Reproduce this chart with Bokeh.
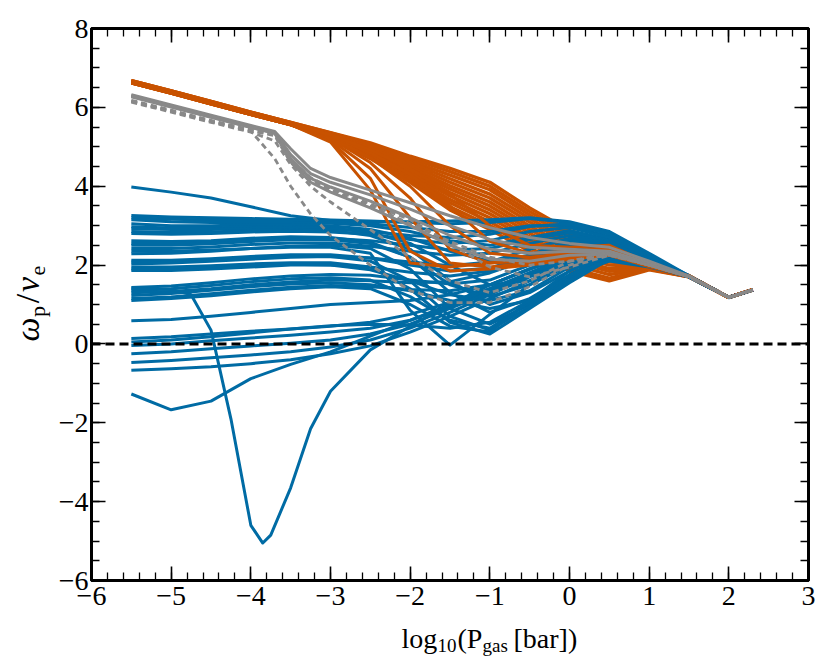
import math
from bokeh.plotting import figure
from bokeh.layouts import row, column
from bokeh.models import (SingleIntervalTicker, LinearAxis, CustomJSTickFormatter,
                          Span, Label, Range1d)
from bokeh.embed import file_html
from bokeh.resources import INLINE

# ---------------- data ----------------
X = [-5.5, -5.0, -4.5, -4.0, -3.5, -3.0, -2.5, -2.0, -1.5, -1.0, -0.5, 0.0, 0.5, 1.0, 1.5, 2.0, 2.3]

# orange runs that stay in the upper band
ORANGE = [
    [6.68, 6.42, 6.15, 5.88, 5.62, 5.36, 5.10, 4.76, 4.45, 4.10, 3.45, 2.88, 2.55, 2.08, 1.73, 1.18, 1.38],
    [6.68, 6.42, 6.15, 5.88, 5.62, 5.35, 5.07, 4.71, 4.37, 4.00, 3.36, 2.80, 2.47, 2.06, 1.73, 1.18, 1.38],
    [6.66, 6.40, 6.13, 5.86, 5.60, 5.33, 5.04, 4.65, 4.28, 3.91, 3.27, 2.72, 2.40, 2.05, 1.72, 1.18, 1.37],
    [6.66, 6.40, 6.13, 5.86, 5.60, 5.32, 5.00, 4.60, 4.19, 3.80, 3.18, 2.62, 2.31, 2.03, 1.72, 1.18, 1.37],
    [6.66, 6.40, 6.13, 5.86, 5.60, 5.31, 4.97, 4.54, 4.10, 3.70, 3.09, 2.54, 2.24, 2.01, 1.72, 1.18, 1.37],
    [6.64, 6.38, 6.11, 5.84, 5.58, 5.29, 4.93, 4.48, 4.01, 3.60, 2.99, 2.45, 2.15, 2.00, 1.72, 1.18, 1.37],
    [6.64, 6.38, 6.11, 5.84, 5.58, 5.28, 4.90, 4.43, 3.93, 3.50, 2.90, 2.37, 2.08, 1.98, 1.71, 1.18, 1.37],
    [6.64, 6.38, 6.11, 5.84, 5.58, 5.27, 4.87, 4.38, 3.84, 3.40, 2.81, 2.28, 2.00, 1.96, 1.71, 1.18, 1.37],
    [6.64, 6.38, 6.11, 5.84, 5.58, 5.25, 4.83, 4.32, 3.75, 3.30, 2.71, 2.19, 1.91, 1.95, 1.71, 1.18, 1.37],
    [6.62, 6.36, 6.09, 5.82, 5.56, 5.24, 4.80, 4.27, 3.66, 3.20, 2.63, 2.11, 1.84, 1.93, 1.71, 1.18, 1.37],
    [6.62, 6.36, 6.09, 5.82, 5.56, 5.23, 4.77, 4.21, 3.58, 3.10, 2.54, 2.03, 1.76, 1.91, 1.70, 1.18, 1.37],
    [6.62, 6.36, 6.09, 5.82, 5.56, 5.21, 4.73, 4.15, 3.48, 3.00, 2.44, 1.93, 1.67, 1.90, 1.70, 1.18, 1.37],
    [6.62, 6.36, 6.09, 5.82, 5.56, 5.20, 4.70, 4.10, 3.40, 2.90, 2.35, 1.85, 1.60, 1.88, 1.70, 1.18, 1.37],
]
# orange runs that drop steeply out of the band
ORANGE_DROP = [
    [6.62, 6.36, 6.09, 5.82, 5.56, 5.15, 4.20, 2.35, 1.85, 1.90, 2.00, 2.15, 2.25, 1.96, 1.71, 1.18, 1.37],
    [6.64, 6.38, 6.11, 5.84, 5.58, 5.18, 4.45, 3.20, 2.05, 1.95, 2.05, 2.20, 2.30, 1.98, 1.71, 1.18, 1.37],
    [6.64, 6.38, 6.11, 5.84, 5.58, 5.22, 4.60, 3.70, 2.40, 2.05, 2.10, 2.25, 2.35, 2.00, 1.72, 1.18, 1.37],
    [6.66, 6.40, 6.13, 5.86, 5.60, 5.25, 4.72, 4.00, 3.00, 2.30, 2.20, 2.30, 2.40, 2.02, 1.72, 1.18, 1.37],
    [6.66, 6.40, 6.13, 5.86, 5.60, 5.28, 4.85, 4.30, 3.50, 2.60, 2.30, 2.35, 2.45, 2.03, 1.72, 1.18, 1.37],
    [6.68, 6.42, 6.15, 5.88, 5.62, 5.30, 4.92, 4.45, 3.80, 3.00, 2.50, 2.45, 2.50, 2.05, 1.72, 1.18, 1.38],
    [6.62, 6.36, 6.09, 5.82, 5.56, 5.12, 3.90, 2.05, 1.95, 2.05, 2.15, 2.30, 2.38, 2.00, 1.71, 1.18, 1.37],
]

BLUE = [
    [3.98, 3.85, 3.70, 3.48, 3.25, 3.13, 3.10, 3.10, 3.12, 3.15, 3.20, 3.10, 2.85, 2.30, 1.73, 1.18, 1.37],
    [3.26, 3.22, 3.20, 3.18, 3.16, 3.14, 3.12, 3.08, 3.05, 3.08, 3.18, 3.08, 2.80, 2.25, 1.73, 1.18, 1.37],
    [3.20, 3.16, 3.14, 3.13, 3.12, 3.10, 3.05, 2.95, 2.85, 2.85, 3.00, 3.00, 2.72, 2.20, 1.72, 1.17, 1.36],
    [3.15, 3.10, 3.08, 3.08, 3.08, 3.06, 3.00, 2.85, 2.62, 2.50, 2.70, 2.88, 2.65, 2.15, 1.72, 1.18, 1.37],
    [3.05, 3.00, 3.00, 3.02, 3.02, 3.00, 2.90, 2.68, 2.35, 2.10, 2.25, 2.62, 2.55, 2.10, 1.72, 1.19, 1.37],
    [2.97, 2.94, 2.94, 2.97, 2.98, 2.95, 2.82, 2.55, 2.00, 1.50, 1.60, 2.10, 2.40, 2.05, 1.71, 1.18, 1.37],
    [2.93, 2.90, 2.90, 2.93, 2.95, 2.92, 2.85, 2.75, 2.70, 2.78, 2.98, 3.05, 2.78, 2.22, 1.73, 1.18, 1.37],
    [2.85, 2.83, 2.84, 2.88, 2.90, 2.88, 2.75, 2.40, 1.60, 1.00, 1.30, 1.85, 2.30, 2.02, 1.70, 1.18, 1.37],
    [2.80, 2.78, 2.80, 2.84, 2.86, 2.84, 2.78, 2.65, 2.55, 2.62, 2.85, 2.95, 2.70, 2.18, 1.72, 1.18, 1.37],
    [2.62, 2.60, 2.62, 2.68, 2.72, 2.70, 2.58, 2.20, 1.30, 0.80, 1.15, 1.75, 2.25, 2.00, 1.70, 1.18, 1.37],
    [2.55, 2.55, 2.58, 2.64, 2.68, 2.68, 2.62, 2.50, 2.38, 2.42, 2.65, 2.82, 2.62, 2.15, 1.72, 1.18, 1.37],
    [2.50, 2.50, 2.54, 2.60, 2.64, 2.64, 2.55, 2.20, 1.50, 1.20, 1.50, 2.00, 2.35, 2.05, 1.71, 1.18, 1.37],
    [2.42, 2.42, 2.46, 2.52, 2.56, 2.56, 2.48, 2.35, 2.25, 2.30, 2.55, 2.75, 2.60, 2.12, 1.72, 1.18, 1.37],
    [2.29, 2.30, 2.35, 2.42, 2.48, 2.50, 2.42, 1.90, 0.90, 0.50, 1.00, 1.65, 2.20, 2.00, 1.70, 1.18, 1.37],
    [2.35, 2.35, 2.38, 2.42, 2.45, 2.45, 2.30, 0.85, -0.03, 0.75, 1.50, 2.10, 2.40, 2.05, 1.71, 1.18, 1.37],
    [2.12, 2.12, 2.16, 2.22, 2.26, 2.26, 2.18, 2.00, 1.85, 1.92, 2.25, 2.60, 2.55, 2.10, 1.72, 1.18, 1.37],
    [2.08, 2.08, 2.12, 2.18, 2.22, 2.22, 2.10, 1.60, 0.70, 0.35, 0.95, 1.60, 2.20, 2.00, 1.70, 1.18, 1.37],
    [2.03, 2.05, 2.10, 2.15, 2.20, 2.22, 2.18, 2.08, 1.98, 2.08, 2.40, 2.68, 2.58, 2.12, 1.72, 1.18, 1.37],
    [1.95, 1.95, 1.98, 2.03, 2.06, 2.06, 1.95, 1.40, 0.55, 0.25, 0.90, 1.55, 2.15, 1.98, 1.70, 1.18, 1.37],
    [1.90, 1.91, 1.94, 1.99, 2.02, 2.00, 1.88, 1.60, 1.25, 1.10, 1.35, 1.95, 2.35, 2.05, 1.71, 1.18, 1.37],
    [1.86, 1.86, 1.90, 1.95, 2.00, 2.00, 1.95, 1.82, 1.72, 1.85, 2.20, 2.55, 2.52, 2.10, 1.72, 1.18, 1.37],
    [1.43, 1.47, 1.55, 1.65, 1.72, 1.76, 1.74, 1.62, 1.52, 1.62, 2.00, 2.42, 2.48, 2.08, 1.72, 1.18, 1.37],
    [1.35, 1.40, 1.48, 1.58, 1.65, 1.68, 1.62, 1.20, 0.60, 0.40, 1.05, 1.70, 2.15, 1.98, 1.70, 1.18, 1.37],
    [1.30, 1.33, 1.40, 1.50, 1.57, 1.62, 1.60, 1.55, 1.58, 1.80, 2.15, 2.48, 2.50, 2.08, 1.72, 1.18, 1.37],
    [1.23, 1.28, 1.36, 1.45, 1.52, 1.55, 1.50, 1.35, 1.10, 0.90, 1.10, 1.75, 2.28, 2.02, 1.71, 1.18, 1.37],
    [1.15, 1.19, 1.27, 1.36, 1.44, 1.48, 1.45, 1.38, 1.35, 1.50, 1.90, 2.35, 2.45, 2.05, 1.72, 1.18, 1.37],
    [1.10, 1.15, 1.22, 1.32, 1.40, 1.45, 1.40, 1.00, 0.45, 0.30, 1.10, 1.75, 2.10, 1.95, 1.70, 1.18, 1.37],
    [0.59, 0.62, 0.70, 0.80, 0.90, 1.00, 1.05, 1.10, 1.25, 1.50, 1.90, 2.30, 2.40, 2.05, 1.71, 1.18, 1.37],
    [0.14, 0.18, 0.25, 0.32, 0.38, 0.45, 0.55, 0.75, 1.05, 1.40, 1.80, 2.20, 2.35, 2.02, 1.70, 1.18, 1.37],
    [0.05, 0.10, 0.18, 0.28, 0.38, 0.46, 0.50, 0.48, 0.40, 0.55, 1.10, 1.85, 2.30, 2.00, 1.70, 1.18, 1.37],
    [-0.04, 0.00, 0.08, 0.15, 0.22, 0.30, 0.40, 0.60, 0.95, 1.35, 1.80, 2.20, 2.35, 2.00, 1.70, 1.18, 1.37],
    [-0.25, -0.20, -0.12, -0.05, 0.02, 0.10, 0.25, 0.50, 0.90, 1.30, 1.75, 2.15, 2.30, 2.00, 1.70, 1.18, 1.37],
    [-0.47, -0.42, -0.35, -0.28, -0.20, -0.08, 0.10, 0.40, 0.80, 1.25, 1.70, 2.10, 2.30, 2.00, 1.70, 1.18, 1.37],
    [-0.67, -0.63, -0.58, -0.50, -0.40, -0.25, -0.05, 0.30, 0.70, 1.15, 1.60, 2.05, 2.28, 1.98, 1.70, 1.18, 1.37],
    [-1.27, -1.67, -1.45, -0.88, -0.52, -0.20, 0.20, 0.60, 1.00, 1.40, 1.80, 2.15, 2.30, 2.00, 1.70, 1.18, 1.37],
]

# the blue run with the deep minimum near log P = -3.85
XV = [-5.5, -5.0, -4.75, -4.5, -4.25, -4.0, -3.85, -3.75, -3.5, -3.25, -3.0, -2.5, -2.0,
      -1.5, -1.0, -0.5, 0.0, 0.5, 1.0, 1.5, 2.0, 2.3]
YV = [1.40, 1.38, 1.25, 0.35, -1.90, -4.60, -5.05, -4.85, -3.65, -2.15, -1.20, -0.15, 0.45,
      1.00, 1.50, 1.90, 2.20, 2.35, 2.00, 1.70, 1.18, 1.37]

XG = [-5.5, -5.0, -4.5, -4.0, -3.7, -3.5, -3.25, -3.0, -2.5, -2.0, -1.5, -1.0, -0.5,
      0.0, 0.5, 1.0, 1.5, 2.0, 2.3]
GRAY_SOLID = [
    [6.32, 6.06, 5.80, 5.54, 5.39, 4.95, 4.45, 4.22, 3.90, 3.58, 3.25, 2.95, 2.70, 2.55, 2.45, 2.10, 1.72, 1.18, 1.37],
    [6.30, 6.04, 5.78, 5.52, 5.37, 4.80, 4.32, 4.10, 3.78, 3.42, 3.00, 2.65, 2.45, 2.40, 2.35, 2.05, 1.72, 1.18, 1.37],
    [6.28, 6.02, 5.76, 5.50, 5.35, 4.70, 4.20, 3.98, 3.62, 3.20, 2.75, 2.40, 2.30, 2.35, 2.30, 2.00, 1.71, 1.18, 1.37],
    [6.27, 6.01, 5.75, 5.49, 5.34, 4.62, 4.10, 3.85, 3.45, 3.00, 2.50, 2.15, 2.10, 2.25, 2.28, 2.00, 1.71, 1.18, 1.37],
]
GRAY_DASHED = [
    [6.15, 5.90, 5.64, 5.40, 4.70, 4.00, 3.30, 2.75, 2.00, 1.35, 1.05, 1.05, 1.45, 2.00, 2.30, 2.00, 1.70, 1.18, 1.37],
    [6.13, 5.88, 5.62, 5.37, 5.15, 4.55, 4.00, 3.60, 2.90, 2.20, 1.60, 1.30, 1.60, 2.10, 2.30, 2.00, 1.70, 1.18, 1.37],
    [6.16, 5.91, 5.65, 5.41, 5.28, 4.60, 4.15, 3.90, 3.50, 3.05, 2.60, 2.20, 2.00, 2.10, 2.25, 2.00, 1.71, 1.18, 1.37],
    [6.18, 5.93, 5.67, 5.43, 5.30, 4.68, 4.22, 3.95, 3.55, 3.15, 2.55, 1.95, 1.70, 1.95, 2.25, 2.00, 1.71, 1.18, 1.37],
]

ZERO_LEVEL = 0.0
X_RANGE = (-6, 3)
Y_RANGE = (-6, 8)

ORANGE_C = "#C85200"
BLUE_C = "#006BA4"
GRAY_C = "#898989"
SERIF = "Liberation Serif"

# ---------------- main figure ----------------
p = figure(width=772, height=612, x_range=Range1d(*X_RANGE), y_range=Range1d(*Y_RANGE),
           output_backend="svg", toolbar_location=None, title=None,
           min_border_left=39, min_border_right=16, min_border_top=28, min_border_bottom=32)
p.xgrid.visible = False
p.ygrid.visible = False
p.outline_line_color = "black"
p.outline_line_width = 3
p.background_fill_color = "white"
p.border_fill_color = "white"

for ys in ORANGE:
    p.line(X, ys, line_color=ORANGE_C, line_width=3.4, line_join="round")
for ys in BLUE:
    p.line(X, ys, line_color=BLUE_C, line_width=3.0, line_join="round")
p.line(XV, YV, line_color=BLUE_C, line_width=3.0, line_join="round")
for ys in ORANGE_DROP:
    p.line(X, ys, line_color=ORANGE_C, line_width=3.0, line_join="round")
for ys in GRAY_SOLID:
    p.line(XG, ys, line_color=GRAY_C, line_width=3.0, line_join="round")
for ys in GRAY_DASHED:
    p.line(XG, ys, line_color=GRAY_C, line_width=2.8, line_dash="6 4", line_join="round")

p.add_layout(Span(location=ZERO_LEVEL, dimension="width", line_color="black",
                  line_width=3, line_dash="9 5"))

fmt_code = "return tick < 0 ? '\u2212' + String(-tick) : String(tick);"

def style_axis(ax, labels=True):
    ax.axis_line_color = "black"
    ax.axis_line_width = 3
    ax.major_tick_in = 14
    ax.major_tick_out = 0
    ax.minor_tick_in = 8
    ax.minor_tick_out = 0
    ax.major_tick_line_width = 1.6
    ax.minor_tick_line_width = 1.3
    ax.major_tick_line_color = "black"
    ax.minor_tick_line_color = "black"
    ax.axis_label = None
    if labels:
        ax.formatter = CustomJSTickFormatter(code=fmt_code)
        ax.major_label_text_font = SERIF
        ax.major_label_text_font_size = "28px"
        ax.major_label_text_color = "black"
    else:
        ax.formatter = CustomJSTickFormatter(code="return '';")
        ax.major_label_text_font_size = "0px"
        ax.major_label_standoff = 0

p.xaxis.ticker = SingleIntervalTicker(interval=1, num_minor_ticks=5)
p.yaxis.ticker = SingleIntervalTicker(interval=2, num_minor_ticks=4)
style_axis(p.xaxis[0])
style_axis(p.yaxis[0])
p.xaxis.major_label_standoff = 6
p.yaxis.major_label_standoff = 3

top = LinearAxis(ticker=SingleIntervalTicker(interval=1, num_minor_ticks=5))
style_axis(top, labels=False)
p.add_layout(top, "above")
right = LinearAxis(ticker=SingleIntervalTicker(interval=2, num_minor_ticks=4))
style_axis(right, labels=False)
p.add_layout(right, "right")

# ---------------- title strips (composed texts with subscripts) ----------------
def strip(w, h):
    f = figure(width=w, height=h, x_range=Range1d(0, 1), y_range=Range1d(0, 1),
               x_axis_location=None, y_axis_location=None, toolbar_location=None,
               output_backend="svg", title=None, min_border=0, outline_line_color=None)
    f.grid.visible = False
    f.background_fill_color = None
    f.border_fill_color = None
    return f

def lab(fig, text, x, y, size, style="normal", angle=0.0, align="left", baseline="alphabetic"):
    fig.add_layout(Label(x=x, y=y, x_units="screen", y_units="screen", text=text,
                         text_font=SERIF, text_font_size=size, text_font_style=style,
                         text_color="black", angle=angle, text_align=align,
                         text_baseline=baseline))

# x title: log10(Pgas [bar])
xt = strip(772, 48)
bx = 22
lab(xt, "log", 310, bx, "28px")
lab(xt, "10", 346, bx - 7, "19px")
lab(xt, "(P", 366, bx, "28px")
lab(xt, "gas", 391, bx - 7, "19px")
lab(xt, "[bar])", 422, bx, "28px")

# y title: omega_p / nu_e (reads bottom to top); anchors on the centre line of each piece
yt = strip(52, 660)
ang = math.pi / 2
lab(yt, "\u03c9", 27, 331, "34px", "italic", ang, "center", "middle")
lab(yt, "p", 37, 349, "22px", "normal", ang, "center", "middle")
lab(yt, "/", 27, 362, "34px", "normal", ang, "center", "middle")
lab(yt, "\u03bd", 27, 376, "34px", "italic", ang, "center", "middle")
lab(yt, "e", 37, 390, "22px", "normal", ang, "center", "middle")

layout = row(yt, column(p, xt))
open("out.html", "w").write(file_html(layout, INLINE))
